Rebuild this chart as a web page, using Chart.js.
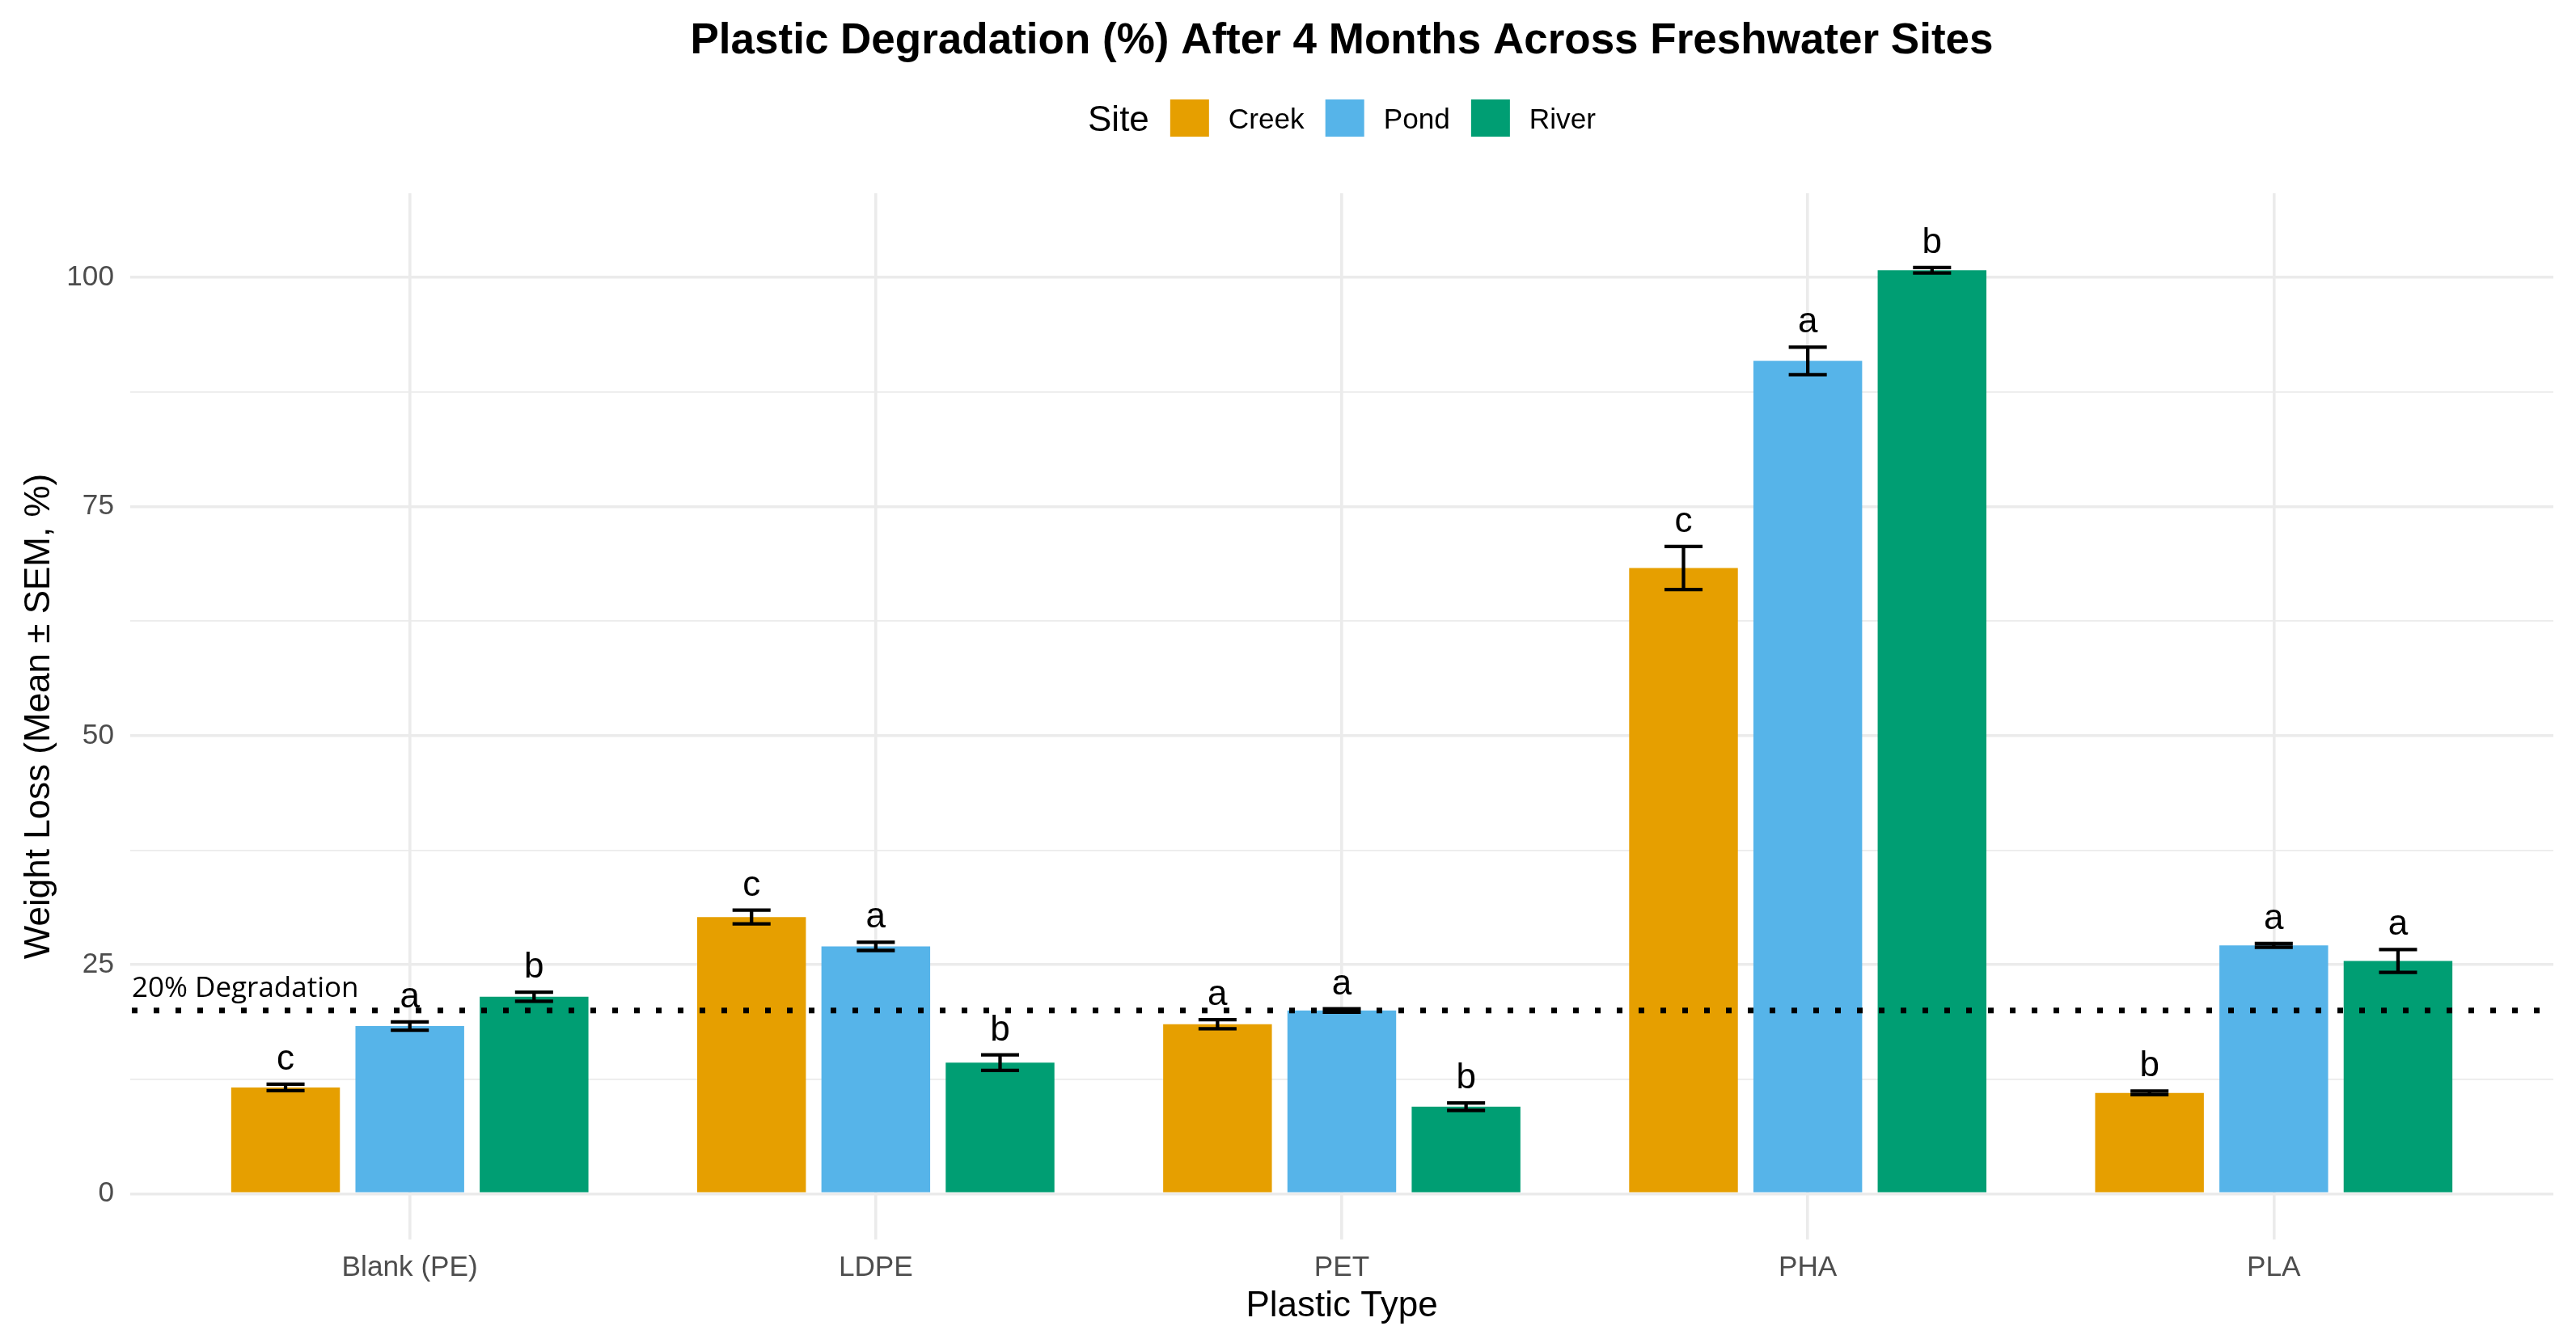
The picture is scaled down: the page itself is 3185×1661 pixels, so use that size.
<!DOCTYPE html>
<html>
<head>
<meta charset="utf-8">
<title>Plastic Degradation</title>
<script src="https://cdn.jsdelivr.net/npm/chart.js@4.4.1/dist/chart.umd.min.js"></script>
<style>
  html, body { margin: 0; padding: 0; background: #fff; }
  canvas { display: block; }
</style>
</head>
<body>
<canvas id="deg-chart" width="3185" height="1661"></canvas>
<script>
const plasticTypes = ['Blank (PE)', 'LDPE', 'PET', 'PHA', 'PLA'];
const sites = ['Creek', 'Pond', 'River'];
const siteColors = ['#E69F00', '#56B4E9', '#009E73'];

const creekMean = [11.6, 30.2, 18.5, 68.3, 11.0];
const pondMean = [18.3, 27.0, 20.0, 90.9, 27.1];
const riverMean = [21.5, 14.3, 9.5, 100.8, 25.4];

const creekSem = [0.35, 0.75, 0.5, 2.35, 0.2];
const pondSem = [0.45, 0.45, 0.18, 1.5, 0.2];
const riverSem = [0.5, 0.85, 0.4, 0.3, 1.25];

const creekLetters = ['c', 'c', 'a', 'c', 'b'];
const pondLetters = ['a', 'a', 'a', 'a', 'a'];
const riverLetters = ['b', 'b', 'b', 'b', 'a'];

const yTicks = [0, 12.5, 25, 37.5, 50, 62.5, 75, 87.5, 100];
const threshold = 20;
const thresholdLabel = '20% Degradation';

const FONT = "'Liberation Sans', Arial, Helvetica, sans-serif";
const GRID = '#EBEBEB';

const means = [creekMean, pondMean, riverMean];
const sems = [creekSem, pondSem, riverSem];
const letters = [creekLetters, pondLetters, riverLetters];

// error bars, threshold line and significance letters
const annotate = {
  id: 'annotate',
  afterDatasetsDraw(chart) {
    const ctx = chart.ctx;
    const y = chart.scales.y;
    const area = chart.chartArea;
    ctx.save();

    chart.data.datasets.forEach((ds, di) => {
      const meta = chart.getDatasetMeta(di);
      meta.data.forEach((bar, i) => {
        const m = means[di][i], s = sems[di][i];
        const top = y.getPixelForValue(m + s);
        const bot = y.getPixelForValue(m - s);
        const half = bar.width * 0.175;
        ctx.strokeStyle = '#000';
        ctx.lineWidth = 4.3;
        ctx.beginPath();
        ctx.moveTo(bar.x, top); ctx.lineTo(bar.x, bot);
        ctx.moveTo(bar.x - half, top); ctx.lineTo(bar.x + half, top);
        ctx.moveTo(bar.x - half, bot); ctx.lineTo(bar.x + half, bot);
        ctx.stroke();
      });
    });

    const ty = y.getPixelForValue(threshold);
    ctx.strokeStyle = '#000';
    ctx.lineWidth = 7;
    ctx.setLineDash([7, 20]);
    ctx.beginPath();
    ctx.moveTo(area.left + 2, ty);
    ctx.lineTo(area.right, ty);
    ctx.stroke();
    ctx.setLineDash([]);

    ctx.fillStyle = '#000';
    ctx.font = '44px ' + FONT;
    ctx.textAlign = 'center';
    ctx.textBaseline = 'alphabetic';
    chart.data.datasets.forEach((ds, di) => {
      const meta = chart.getDatasetMeta(di);
      meta.data.forEach((bar, i) => {
        const top = y.getPixelForValue(means[di][i] + sems[di][i]);
        ctx.fillText(letters[di][i], bar.x, top - 18);
      });
    });

    ctx.font = "35px 'Open Sans', sans-serif";
    ctx.textAlign = 'left';
    ctx.fillText(thresholdLabel, area.left + 2, ty - 17);
    ctx.restore();
  }
};

// title and legend, centred over the panel like ggplot
const header = {
  id: 'header',
  afterDraw(chart) {
    const ctx = chart.ctx;
    const area = chart.chartArea;
    const cx = (area.left + area.right) / 2;
    ctx.save();
    ctx.fillStyle = '#000';
    ctx.textBaseline = 'alphabetic';
    ctx.textAlign = 'center';
    ctx.font = 'bold 53px ' + FONT;
    ctx.fillText('Plastic Degradation (%) After 4 Months Across Freshwater Sites', cx, 66);

    const midY = 146;
    ctx.font = '44px ' + FONT;
    const titleW = ctx.measureText('Site').width;
    ctx.font = '35.2px ' + FONT;
    const labW = sites.map(s => ctx.measureText(s).width);
    const boxW = 48, boxH = 46;
    let total = titleW + 26;
    labW.forEach((w, i) => { total += boxW + 24 + w + (i < labW.length - 1 ? 26 : 0); });

    let x = cx - total / 2;
    ctx.textAlign = 'left';
    ctx.font = '44px ' + FONT;
    ctx.fillText('Site', x, midY + 16);
    x += titleW + 26;
    ctx.font = '35.2px ' + FONT;
    sites.forEach((s, i) => {
      ctx.fillStyle = siteColors[i];
      ctx.fillRect(x, midY - boxH / 2, boxW, boxH);
      x += boxW + 24;
      ctx.fillStyle = '#000';
      ctx.fillText(s, x, midY + 12.6);
      x += labW[i] + 26;
    });
    ctx.restore();
  }
};

const datasets = sites.map((s, di) => ({
  label: s,
  data: means[di].map((v, i) => ({ x: i, y: v })),
  backgroundColor: siteColors[di],
  borderWidth: 0,
  categoryPercentage: 0.8,
  barPercentage: 0.875
}));

new Chart(document.getElementById('deg-chart'), {
  type: 'bar',
  data: { datasets },
  plugins: [annotate, header],
  options: {
    responsive: false,
    animation: false,
    devicePixelRatio: 1,
    layout: { padding: { top: 239, right: 28, left: 0, bottom: 0 } },
    plugins: {
      legend: { display: false },
      title: { display: false },
      tooltip: { enabled: false }
    },
    scales: {
      x: {
        type: 'linear',
        min: -0.6,
        max: 4.6,
        offset: false,
        afterBuildTicks: axis => { axis.ticks = plasticTypes.map((_, i) => ({ value: i })); },
        afterFit: axis => {
          axis.height = 128;
          axis.paddingLeft = 0; axis.paddingRight = 0;
        },
        grid: { color: GRID, lineWidth: 3.6, drawTicks: false, offset: false },
        border: { display: false },
        ticks: {
          autoSkip: false,
          maxRotation: 0,
          padding: 14,
          color: '#4D4D4D',
          font: { size: 35.2, family: FONT },
          callback: v => plasticTypes[v]
        },
        title: {
          display: true,
          text: 'Plastic Type',
          color: '#000',
          font: { size: 44, family: FONT },
          padding: { top: 0, bottom: 18.6 }
        }
      },
      y: {
        min: -5,
        max: 109.2,
        afterBuildTicks: axis => { axis.ticks = yTicks.map(v => ({ value: v })); },
        afterFit: axis => {
          axis.width = 161;
          axis.paddingTop = 0; axis.paddingBottom = 0;
        },
        grid: {
          color: GRID,
          lineWidth: c => (c.tick && c.tick.value % 25 === 0 ? 3.6 : 1.8),
          drawTicks: false
        },
        border: { display: false },
        ticks: {
          padding: 20,
          color: '#4D4D4D',
          font: { size: 35.2, family: FONT },
          callback: v => (v % 25 === 0 ? String(v) : '')
        },
        title: {
          display: true,
          text: 'Weight Loss (Mean ± SEM, %)',
          color: '#000',
          font: { size: 44, family: FONT },
          padding: { top: 22.6, bottom: 0 }
        }
      }
    }
  }
});
</script>
</body>
</html>
